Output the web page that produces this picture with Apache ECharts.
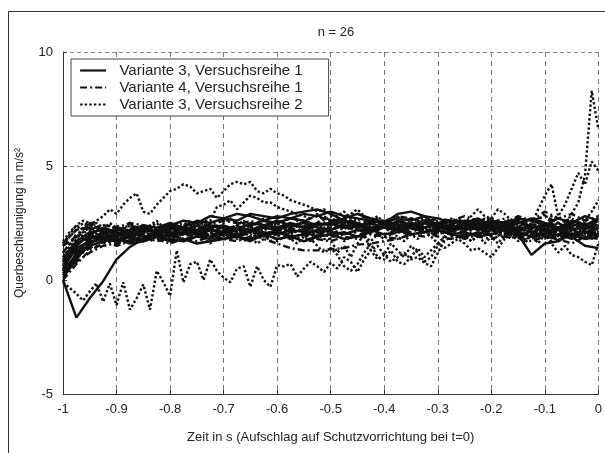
<!DOCTYPE html>
<html>
<head>
<meta charset="utf-8">
<title>Querbeschleunigung</title>
<script src="https://cdn.jsdelivr.net/npm/echarts@6.0.0/dist/echarts.min.js"></script>
<style>
  html, body { margin: 0; padding: 0; background: #fff; }
  #chart { width: 605px; height: 453px; }
</style>
</head>
<body>
<div id="chart"></div>
<script>
// Legendennamen
var NAME_A = 'Variante 3, Versuchsreihe 1';
var NAME_B = 'Variante 4, Versuchsreihe 1';
var NAME_C = 'Variante 3, Versuchsreihe 2';

// Zeitachsen: grob (0.025 s) fuer durchgezogen / strichpunktiert, fein (0.0125 s) fuer gepunktet
var tCoarse = [-1, -0.975, -0.95, -0.925, -0.9, -0.875, -0.85, -0.825, -0.8, -0.775,
  -0.75, -0.725, -0.7, -0.675, -0.65, -0.625, -0.6, -0.575, -0.55, -0.525,
  -0.5, -0.475, -0.45, -0.425, -0.4, -0.375, -0.35, -0.325, -0.3, -0.275,
  -0.25, -0.225, -0.2, -0.175, -0.15, -0.125, -0.1, -0.075, -0.05, -0.025, 0];
var tFine = [-1, -0.9875, -0.975, -0.9625, -0.95, -0.9375, -0.925, -0.9125, -0.9, -0.8875,
  -0.875, -0.8625, -0.85, -0.8375, -0.825, -0.8125, -0.8, -0.7875, -0.775, -0.7625,
  -0.75, -0.7375, -0.725, -0.7125, -0.7, -0.6875, -0.675, -0.6625, -0.65, -0.6375,
  -0.625, -0.6125, -0.6, -0.5875, -0.575, -0.5625, -0.55, -0.5375, -0.525, -0.5125,
  -0.5, -0.4875, -0.475, -0.4625, -0.45, -0.4375, -0.425, -0.4125, -0.4, -0.3875,
  -0.375, -0.3625, -0.35, -0.3375, -0.325, -0.3125, -0.3, -0.2875, -0.275, -0.2625,
  -0.25, -0.2375, -0.225, -0.2125, -0.2, -0.1875, -0.175, -0.1625, -0.15, -0.1375,
  -0.125, -0.1125, -0.1, -0.0875, -0.075, -0.0625, -0.05, -0.0375, -0.025, -0.0125, 0];

// Variante 3, Versuchsreihe 1 (durchgezogen)
var s1 = [0, -1.65, -0.8, -0.05, 0.9, 1.45, 1.8, 1.9, 2.0, 2.1, 2.0, 2.2, 2.1, 2.3, 2.2, 2.4, 2.3, 2.5, 2.3, 2.4, 2.5, 2.3, 2.4, 2.2, 2.4, 2.3, 2.5, 2.3, 2.4, 2.2, 2.3, 2.5, 2.2, 2.3, 2.1, 2.4, 2.2, 2.5, 2.2, 2.3, 2.4];
var s2 = [0.2, 1.2, 1.8, 2.0, 1.9, 2.1, 2.3, 2.0, 2.4, 2.6, 2.5, 2.8, 2.7, 2.6, 2.9, 2.8, 2.7, 2.9, 3.0, 3.1, 2.9, 2.6, 2.4, 2.5, 2.3, 2.6, 2.4, 2.5, 2.3, 2.2, 2.4, 2.6, 2.3, 2.5, 2.2, 2.4, 2.1, 2.3, 2.5, 2.2, 2.6];
var s3 = [0.5, 1.4, 1.7, 1.8, 1.7, 1.9, 1.8, 2.0, 1.9, 2.1, 2.0, 1.9, 2.1, 2.0, 2.2, 2.1, 2.0, 2.2, 2.1, 1.9, 2.0, 1.8, 1.9, 2.1, 2.5, 2.9, 3.0, 2.8, 2.4, 2.3, 2.5, 2.3, 2.4, 2.2, 2.0, 1.1, 1.6, 1.7, 2.0, 1.8, 1.9];
var s4 = [0.8, 1.6, 1.9, 1.8, 2.0, 1.9, 2.1, 2.2, 2.0, 2.3, 2.2, 2.4, 2.3, 2.2, 2.5, 2.4, 2.6, 2.4, 2.3, 2.5, 2.4, 2.6, 2.5, 2.3, 2.4, 2.2, 2.3, 2.1, 2.3, 2.4, 2.2, 2.3, 2.5, 2.4, 2.6, 2.3, 2.4, 2.2, 1.9, 1.5, 1.4];
var s5 = [0.3, 1.0, 1.5, 1.7, 1.8, 1.7, 1.8, 1.9, 1.8, 1.7, 1.9, 1.8, 2.0, 1.9, 1.8, 2.0, 2.1, 1.9, 2.0, 2.2, 2.1, 2.0, 2.2, 2.1, 2.3, 2.2, 2.0, 2.1, 2.2, 2.0, 1.9, 2.1, 2.0, 2.2, 2.1, 1.9, 2.0, 2.2, 2.0, 2.1, 2.0];
var s6 = [1.0, 1.7, 2.1, 2.2, 2.0, 2.2, 2.4, 2.3, 2.5, 2.3, 2.6, 2.5, 2.7, 2.9, 2.8, 2.6, 2.8, 2.7, 2.9, 2.8, 3.0, 2.8, 2.7, 2.6, 2.5, 2.7, 2.6, 2.8, 2.7, 2.5, 2.6, 2.4, 2.6, 2.5, 2.7, 2.6, 2.4, 2.7, 2.5, 2.8, 2.6];
var s7 = [0.1, 0.9, 1.6, 1.9, 1.8, 1.6, 1.7, 1.9, 1.7, 1.8, 1.6, 1.7, 1.8, 1.9, 1.7, 2.0, 1.8, 1.9, 1.7, 1.9, 2.0, 2.1, 1.9, 2.2, 2.0, 2.1, 2.3, 2.1, 2.2, 2.0, 2.1, 1.9, 2.0, 2.2, 2.0, 2.1, 1.9, 2.0, 1.8, 2.1, 1.9];
var s8 = [0.6, 1.5, 2.0, 2.3, 2.1, 2.0, 2.2, 2.1, 2.3, 2.2, 2.4, 2.2, 2.1, 2.3, 2.4, 2.6, 2.5, 2.7, 2.6, 2.4, 2.5, 2.7, 2.9, 2.7, 2.5, 2.4, 2.5, 2.3, 2.5, 2.6, 2.4, 2.2, 2.4, 2.3, 2.5, 2.7, 2.5, 2.3, 2.6, 2.4, 2.7];
var s9 = [0.4, 1.1, 1.6, 2.0, 2.2, 2.1, 1.9, 2.0, 2.2, 2.3, 2.1, 2.3, 2.4, 2.2, 2.1, 2.3, 2.2, 2.4, 2.5, 2.3, 2.2, 2.4, 2.3, 2.5, 2.6, 2.4, 2.3, 2.5, 2.4, 2.6, 2.5, 2.7, 2.4, 2.2, 2.3, 2.1, 2.3, 1.7, 2.2, 2.4, 2.2];

// Variante 4, Versuchsreihe 1 (strichpunktiert)
var d1 = [0.0, 0.7, 1.3, 1.6, 1.8, 1.9, 2.0, 1.9, 2.1, 2.0, 2.1, 2.0, 2.1, 2.0, 2.0, 1.8, 1.6, 1.4, 1.3, 1.3, 1.35, 1.4, 1.55, 1.6, 1.7, 1.8, 2.0, 2.1, 2.0, 2.2, 2.1, 2.0, 2.2, 2.1, 2.3, 2.0, 2.2, 2.1, 1.9, 2.2, 2.0];
var d2 = [1.5, 1.9, 2.2, 2.4, 2.3, 2.1, 2.3, 2.2, 2.4, 2.3, 2.5, 2.4, 2.6, 2.5, 2.4, 2.6, 2.5, 2.7, 2.6, 2.8, 2.6, 2.7, 2.5, 2.6, 2.4, 2.5, 2.7, 2.6, 2.4, 2.6, 2.5, 2.3, 2.5, 2.7, 2.4, 2.6, 2.8, 2.5, 2.7, 2.4, 2.6];
var d3 = [0.7, 1.3, 1.6, 1.8, 1.6, 1.8, 1.7, 1.9, 2.0, 1.8, 1.9, 2.1, 2.0, 2.2, 2.1, 2.0, 2.2, 2.3, 2.1, 2.2, 2.0, 2.3, 2.2, 2.1, 2.3, 2.2, 2.4, 2.2, 2.1, 2.3, 2.2, 2.4, 2.2, 2.0, 2.2, 2.4, 2.1, 2.3, 2.2, 2.0, 2.3];
var d4 = [1.2, 2.0, 2.4, 2.2, 2.0, 2.1, 1.9, 2.1, 2.3, 2.2, 2.0, 2.2, 2.1, 1.9, 2.1, 2.0, 2.2, 2.4, 2.3, 2.1, 2.3, 2.5, 2.4, 2.2, 2.3, 2.1, 2.2, 2.4, 2.6, 2.4, 2.2, 2.3, 2.1, 2.3, 2.5, 2.2, 2.0, 2.3, 2.4, 2.1, 2.3];
var d5 = [0.3, 0.8, 1.2, 1.5, 1.6, 1.8, 1.9, 1.7, 1.8, 2.0, 1.9, 2.0, 1.8, 2.0, 2.1, 1.9, 2.0, 1.8, 2.0, 2.1, 1.9, 2.0, 2.2, 2.0, 1.9, 2.1, 2.0, 1.9, 2.1, 2.0, 1.8, 2.0, 2.2, 1.9, 2.0, 1.8, 2.1, 1.9, 2.0, 1.8, 2.1];
var d6 = [0.9, 1.6, 1.8, 2.1, 2.3, 2.5, 2.4, 2.2, 2.3, 2.5, 2.3, 2.4, 2.2, 2.4, 2.6, 2.4, 2.3, 2.1, 2.2, 2.4, 2.6, 2.8, 2.9, 2.7, 2.6, 2.8, 2.7, 2.5, 2.7, 2.6, 2.8, 2.6, 2.7, 2.5, 2.8, 2.6, 3.0, 2.7, 2.9, 2.6, 2.8];
var d7 = [1.6, 2.2, 2.3, 2.1, 2.2, 2.4, 2.2, 2.3, 2.1, 2.2, 2.0, 2.2, 2.3, 2.1, 2.2, 2.4, 2.3, 2.1, 2.2, 2.0, 2.2, 2.4, 2.3, 2.1, 2.0, 2.2, 2.1, 2.3, 2.2, 2.1, 2.4, 2.2, 2.3, 2.1, 2.2, 2.4, 2.2, 2.0, 2.3, 2.5, 2.1];
var d8 = [0.5, 1.0, 1.4, 1.7, 1.5, 1.7, 1.9, 1.8, 1.6, 1.8, 1.7, 1.9, 1.8, 1.7, 1.9, 2.0, 1.8, 1.9, 2.0, 1.8, 1.7, 1.9, 1.8, 2.0, 1.9, 1.8, 2.0, 2.1, 1.9, 1.8, 2.0, 1.9, 1.8, 2.0, 1.9, 1.7, 1.9, 1.8, 1.6, 1.9, 1.8];

// Variante 3, Versuchsreihe 2 (gepunktet)
var p1 = [-0.1, -0.35, -0.6, -0.9, -0.5, -0.15, -0.95, -0.15, -1.1, -0.1,
  -1.3, -0.8, -0.2, -1.3, 0.4, -0.1, -0.7, 1.3, -0.1, 0.7,
  0.8, 0.0, 0.9, 0.4, 0.1, -0.1, 0.5, 0.6, -0.3, 0.6,
  0.0, -0.3, 0.65, 0.6, 0.7, 0.15, 0.5, 0.8, 0.6, 0.35,
  0.75, 0.5, 1.0, 0.8, 0.35, 0.9, 1.3, 0.9, 1.1, 0.8,
  1.0, 1.2, 0.9, 1.0, 0.75, 0.6, 1.2, 1.7, 1.9, 2.1,
  1.8, 2.2, 2.5, 2.0, 2.3, 1.9, 2.4, 2.1, 1.8, 2.2,
  2.5, 2.0, 2.3, 1.9, 2.2, 2.6, 2.1, 2.4, 1.9, 2.2, 2.0];
var p2 = [1.5, 1.9, 2.2, 2.5, 2.4, 2.6, 2.8, 3.1, 2.9, 3.3,
  3.6, 3.8, 3.0, 2.9, 3.3, 3.6, 3.9, 4.0, 4.2, 4.1,
  3.8, 3.9, 4.0, 3.6, 3.9, 4.2, 4.3, 4.2, 4.3, 3.9,
  3.8, 4.0, 3.8, 3.7, 3.5, 3.4, 3.3, 3.2, 3.0, 3.1,
  2.9, 2.8, 3.0, 2.7, 2.6, 2.8, 2.5, 2.7, 2.4, 2.6,
  2.8, 2.5, 2.3, 2.6, 2.4, 2.7, 2.5, 2.2, 2.4, 2.6,
  2.3, 2.5, 2.2, 2.6, 2.4, 2.1, 2.5, 2.3, 2.7, 2.4,
  2.2, 2.6, 2.3, 2.8, 2.5, 2.2, 2.6, 2.4, 2.7, 2.3, 2.5];
var p3 = [1.2, 1.6, 1.9, 2.1, 2.3, 2.0, 2.2, 2.5, 2.3, 2.1,
  2.4, 2.2, 2.0, 2.3, 2.5, 2.2, 2.4, 2.1, 2.3, 2.5,
  2.4, 2.6, 2.6, 3.2, 3.3, 3.5, 3.1, 3.4, 3.7, 3.6,
  3.4, 3.4, 3.2, 3.1, 3.0, 2.9, 2.8, 2.7, 2.9, 2.6,
  2.8, 2.5, 2.3, 2.6, 2.4, 2.2, 2.5, 2.3, 2.6, 2.4,
  2.2, 2.5, 2.7, 2.4, 2.2, 2.5, 2.3, 2.6, 2.4, 2.2,
  2.5, 2.8, 3.1, 2.8, 2.7, 3.1, 2.9, 2.6, 2.3, 2.5,
  2.2, 2.4, 2.1, 2.5, 2.3, 2.0, 2.4, 2.2, 2.5, 2.1, 2.3];
var p4 = [1.0, 1.4, 1.7, 2.0, 1.8, 2.1, 1.9, 2.2, 2.0, 1.8,
  2.1, 1.9, 2.2, 2.0, 2.3, 2.1, 1.9, 2.2, 2.0, 2.3,
  2.1, 1.9, 2.2, 2.4, 2.1, 2.3, 2.0, 2.2, 2.4, 2.1,
  2.3, 2.0, 2.2, 2.1, 1.9, 2.2, 2.0, 1.8, 1.5, 1.2,
  1.4, 1.1, 0.6, 0.4, 0.7, 1.2, 1.6, 1.0, 0.9, 1.3,
  0.8, 0.7, 1.0, 1.4, 1.0, 1.3, 1.6, 1.4, 1.6, 1.8,
  1.6, 1.3, 1.4, 1.2, 1.0, 1.4, 1.8, 2.0, 1.7, 2.1,
  1.9, 2.2, 1.8, 2.1, 2.3, 1.9, 2.2, 2.0, 1.8, 2.1, 1.9];
var p5 = [0.6, 1.3, 1.8, 2.3, 2.5, 2.4, 2.2, 1.9, 2.1, 2.3,
  2.0, 2.2, 1.9, 2.1, 1.8, 2.0, 2.2, 1.9, 2.1, 2.3,
  2.0, 1.8, 2.1, 1.9, 2.2, 2.0, 1.8, 2.1, 1.9, 2.2,
  2.0, 1.7, 1.9, 2.1, 1.8, 1.6, 1.9, 1.7, 2.0, 1.8,
  1.8, 1.2, 1.5, 1.0, 1.6, 2.0, 1.3, 1.5, 1.1, 1.6,
  1.3, 1.0, 1.5, 1.2, 0.8, 1.0, 1.5, 1.8, 2.2, 1.9,
  2.1, 1.7, 2.0, 1.6, 1.9, 2.2, 1.8, 2.1, 1.9, 1.6,
  2.0, 1.8, 2.1, 1.7, 2.0, 2.3, 1.9, 1.7, 2.1, 1.8, 2.0];
var p6 = [1.6, 2.0, 2.4, 2.2, 2.5, 2.3, 2.1, 2.4, 2.2, 2.0,
  2.3, 2.1, 2.4, 2.2, 2.0, 2.3, 2.5, 2.2, 2.4, 2.1,
  2.3, 2.5, 2.2, 2.0, 2.3, 2.1, 2.4, 2.6, 2.3, 2.1,
  2.4, 2.2, 2.5, 2.3, 2.1, 2.4, 2.6, 2.3, 2.5, 2.2,
  2.4, 2.7, 2.4, 2.2, 2.5, 2.3, 2.6, 2.8, 2.5, 2.3,
  2.6, 2.4, 2.2, 2.5, 2.7, 2.4, 2.2, 2.5, 2.3, 2.6,
  2.4, 2.2, 2.5, 2.3, 2.6, 2.4, 2.1, 2.4, 2.2, 1.9,
  2.4, 2.1, 2.5, 2.2, 1.9, 2.4, 2.9, 3.4, 4.6, 8.3, 6.6];
var p7 = [0.8, 1.5, 2.0, 1.8, 2.1, 1.9, 1.7, 2.0, 1.8, 2.1,
  1.9, 2.2, 2.0, 1.8, 2.1, 2.3, 2.0, 1.8, 2.1, 1.9,
  2.2, 2.0, 2.3, 2.1, 1.9, 2.2, 2.4, 2.1, 2.3, 2.0,
  2.2, 2.5, 2.2, 2.0, 2.3, 2.1, 2.4, 2.2, 2.5, 2.3,
  2.1, 2.4, 2.2, 2.5, 2.3, 2.1, 2.4, 2.6, 2.3, 2.1,
  2.4, 2.2, 2.5, 2.3, 2.1, 2.4, 2.2, 2.5, 2.7, 2.4,
  2.2, 2.5, 2.3, 2.1, 2.4, 2.2, 2.5, 2.3, 2.3, 2.6,
  2.4, 3.1, 3.7, 4.2, 2.8, 3.3, 4.0, 4.7, 4.2, 5.2, 4.8];
var p8 = [0.4, 1.1, 1.5, 1.8, 2.0, 1.8, 1.6, 1.9, 1.7, 1.9,
  2.1, 1.8, 2.0, 1.7, 1.9, 2.1, 1.8, 2.0, 1.7, 1.9,
  2.0, 1.8, 1.6, 1.9, 2.1, 1.8, 2.0, 1.7, 1.9, 1.6,
  1.8, 2.0, 1.7, 1.9, 2.1, 1.8, 2.0, 1.7, 1.9, 2.1,
  1.8, 2.0, 1.7, 1.9, 2.2, 1.9, 1.7, 2.0, 1.8, 2.1,
  1.9, 1.7, 2.0, 1.8, 2.1, 1.9, 1.6, 1.9, 2.2, 1.8,
  2.0, 1.7, 1.9, 2.2, 1.9, 1.6, 2.0, 1.8, 2.1, 1.7,
  2.0, 1.6, 2.0, 1.6, 1.2, 1.5, 1.1, 1.0, 0.8, 0.65, 1.6];
var p9 = [1.7, 2.1, 2.4, 2.6, 2.5, 2.5, 2.3, 2.1, 2.4, 2.2,
  2.5, 2.3, 2.1, 2.4, 2.6, 2.3, 2.5, 2.2, 2.4, 2.6,
  2.3, 2.1, 2.4, 2.2, 2.5, 2.7, 2.4, 2.6, 2.3, 2.5,
  2.7, 2.4, 2.2, 2.5, 2.3, 2.6, 2.4, 2.2, 2.5, 2.8,
  2.6, 2.3, 2.5, 2.9, 3.1, 2.8, 2.5, 2.3, 2.6, 2.4,
  2.2, 2.5, 2.3, 2.6, 2.8, 2.5, 2.3, 2.6, 2.4, 2.7,
  2.5, 2.2, 2.4, 2.7, 2.5, 2.3, 2.6, 2.4, 2.2, 2.5,
  2.3, 2.6, 2.9, 2.5, 2.2, 2.4, 2.3, 2.0, 2.6, 3.0, 3.5];

var FONT = '"Liberation Sans", Arial, sans-serif';
var DASH_A = 'solid';
var DASH_B = [7, 3, 2, 3];
var DASH_C = [2.4, 2.2];

function mkSeries(name, xs, ys, dash) {
  var data = [];
  for (var i = 0; i < ys.length; i++) {
    data.push([xs[i], ys[i]]);
  }
  return {
    name: name,
    type: 'line',
    data: data,
    symbol: 'none',
    silent: true,
    lineStyle: { color: '#111', width: 2.4, type: dash },
    itemStyle: { color: '#111' }
  };
}

var seriesList = [];
[s1, s2, s3, s4, s5, s6, s7, s8, s9].forEach(function (ys) {
  seriesList.push(mkSeries(NAME_A, tCoarse, ys, DASH_A));
});
[d1, d2, d3, d4, d5, d6, d7, d8].forEach(function (ys) {
  seriesList.push(mkSeries(NAME_B, tCoarse, ys, DASH_B));
});
[p1, p2, p3, p4, p5, p6, p7, p8, p9].forEach(function (ys) {
  seriesList.push(mkSeries(NAME_C, tFine, ys, DASH_C));
});

var chart = echarts.init(document.getElementById('chart'), null, { renderer: 'canvas' });
var option = {
  animation: false,
  backgroundColor: '#fff',
  textStyle: { fontFamily: FONT },
  title: {
    text: 'n = 26',
    left: 331,
    top: 21,
    textAlign: 'center',
    textStyle: { fontSize: 13, fontWeight: 'normal', color: '#222', fontFamily: FONT }
  },
  graphic: [{
    type: 'rect',
    silent: true,
    z: -10,
    shape: { x: 8.5, y: 11.5, width: 700, height: 600 },
    style: { fill: 'none', stroke: '#333', lineWidth: 1 }
  }],
  legend: {
    data: [NAME_A, NAME_B, NAME_C],
    orient: 'vertical',
    left: 71,
    top: 59,
    itemWidth: 26,
    itemHeight: 14,
    itemGap: 2,
    padding: [4, 26, 4, 8],
    borderColor: '#444',
    borderWidth: 1,
    backgroundColor: '#fff',
    selectedMode: false,
    itemStyle: { color: 'rgba(0,0,0,0)', borderColor: 'rgba(0,0,0,0)', borderWidth: 0 },
    lineStyle: { width: 2.2 },
    formatter: function (name) { return '  ' + name; },
    textStyle: { fontSize: 15, color: '#222', fontFamily: FONT }
  },
  grid: { left: 63, right: 6, top: 52, bottom: 59 },
  xAxis: {
    type: 'value',
    min: -1,
    max: 0,
    interval: 0.1,
    name: 'Zeit in s (Aufschlag auf Schutzvorrichtung bei t=0)',
    nameLocation: 'middle',
    nameGap: 37,
    nameTextStyle: { fontSize: 13, color: '#222', fontFamily: FONT },
    axisLine: { onZero: false, lineStyle: { color: '#333', width: 1 } },
    axisTick: { inside: true, length: 4, lineStyle: { color: '#333' } },
    axisLabel: { fontSize: 13, color: '#222', margin: 9, fontFamily: FONT },
    splitLine: { show: true, lineStyle: { color: '#777', type: [5, 4], width: 1 } }
  },
  yAxis: {
    type: 'value',
    min: -5,
    max: 10,
    interval: 5,
    name: 'Querbeschleunigung in m/s²',
    nameLocation: 'middle',
    nameGap: 37,
    nameTextStyle: { fontSize: 12, color: '#222', fontFamily: FONT },
    axisLine: { show: true, onZero: false, lineStyle: { color: '#333', width: 1 } },
    axisTick: { show: true, inside: true, length: 4, lineStyle: { color: '#333' } },
    axisLabel: { fontSize: 13, color: '#222', margin: 10, fontFamily: FONT },
    splitLine: {
      show: true,
      lineStyle: { color: ['#888', 'rgba(0,0,0,0)', '#888', '#888'], type: [4, 3], width: 1 }
    }
  },
  series: seriesList
};
chart.setOption(option);
</script>
</body>
</html>
